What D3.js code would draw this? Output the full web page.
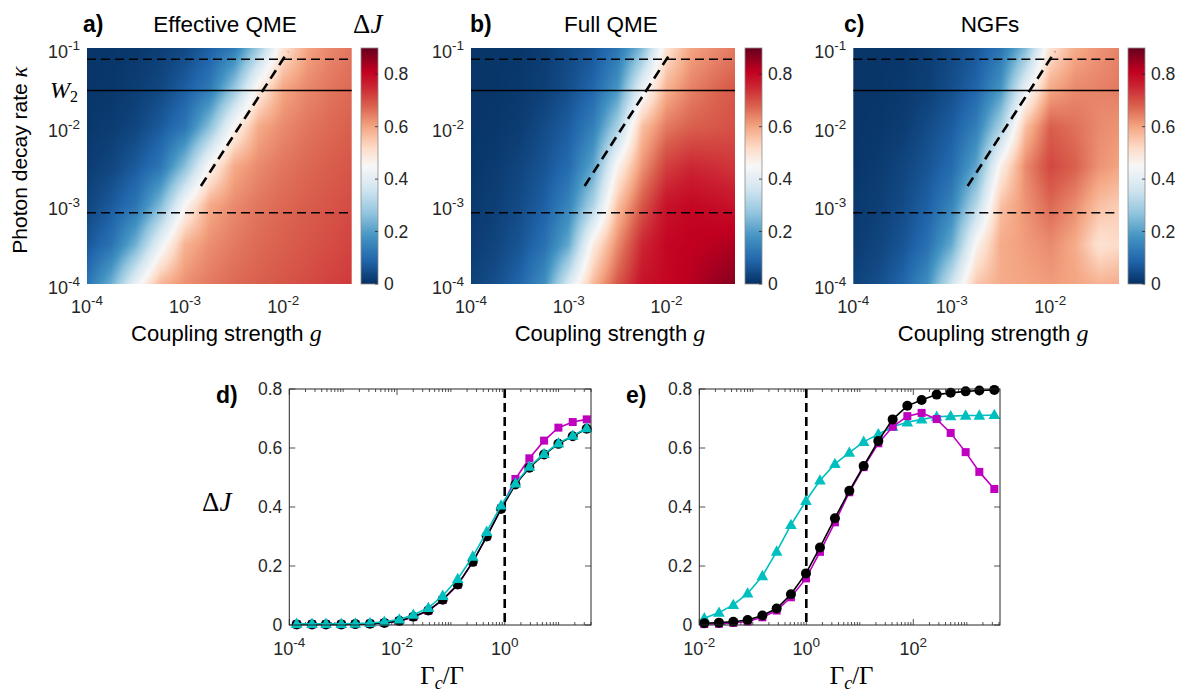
<!DOCTYPE html>
<html><head><meta charset="utf-8">
<script src="https://cdn.jsdelivr.net/npm/d3@7"></script>
<style>
body{margin:0;background:#fff}
svg{display:block}
</style>
</head><body>
<svg id="fig" width="1178" height="692"></svg>
<script>
// ---------------- DATA ----------------
// heat-map grid (coupling strength g columns, photon decay rate kappa rows, first row = kappa 1e-4)
const gGrid = [1e-4, 1.78e-4, 3.16e-4, 5.62e-4, 1e-3, 1.78e-3, 3.16e-3, 5.62e-3, 1e-2, 1.78e-2, 3.16e-2, 5e-2];
const kappaGrid = [1e-4, 3.16e-4, 1e-3, 3.16e-3, 1e-2, 3.16e-2, 1e-1];
const dJEffective = [
  [0.115, 0.23, 0.42, 0.575, 0.625, 0.65, 0.668, 0.68, 0.693, 0.705, 0.718, 0.728],
  [0.065, 0.115, 0.235, 0.42, 0.58, 0.625, 0.65, 0.668, 0.68, 0.693, 0.705, 0.715],
  [0.035, 0.07, 0.12, 0.25, 0.45, 0.59, 0.63, 0.655, 0.67, 0.683, 0.695, 0.705],
  [0.02, 0.036, 0.07, 0.12, 0.26, 0.455, 0.59, 0.63, 0.655, 0.67, 0.683, 0.693],
  [0.012, 0.02, 0.036, 0.07, 0.12, 0.26, 0.455, 0.59, 0.63, 0.655, 0.67, 0.68],
  [0.01, 0.012, 0.022, 0.038, 0.075, 0.125, 0.27, 0.47, 0.595, 0.632, 0.656, 0.668],
  [0.01, 0.01, 0.013, 0.024, 0.04, 0.08, 0.13, 0.29, 0.50, 0.60, 0.635, 0.655]
];
const dJFull = [
  [0.03, 0.05, 0.09, 0.17, 0.38, 0.57, 0.69, 0.78, 0.80, 0.82, 0.85, 0.87],
  [0.02, 0.035, 0.06, 0.11, 0.22, 0.48, 0.63, 0.75, 0.80, 0.81, 0.82, 0.83],
  [0.015, 0.025, 0.045, 0.08, 0.15, 0.31, 0.56, 0.69, 0.78, 0.80, 0.79, 0.78],
  [0.01, 0.018, 0.035, 0.06, 0.10, 0.21, 0.46, 0.62, 0.72, 0.75, 0.74, 0.73],
  [0.01, 0.012, 0.02, 0.045, 0.075, 0.14, 0.30, 0.56, 0.65, 0.68, 0.69, 0.70],
  [0.01, 0.01, 0.015, 0.025, 0.05, 0.09, 0.18, 0.41, 0.58, 0.64, 0.67, 0.69],
  [0.01, 0.01, 0.01, 0.02, 0.04, 0.065, 0.12, 0.25, 0.50, 0.60, 0.63, 0.65]
];
const dJNGF = [
  [0.03, 0.05, 0.09, 0.17, 0.36, 0.55, 0.59, 0.60, 0.61, 0.60, 0.58, 0.59],
  [0.02, 0.035, 0.06, 0.11, 0.22, 0.46, 0.59, 0.61, 0.63, 0.59, 0.50, 0.52],
  [0.015, 0.025, 0.045, 0.08, 0.15, 0.32, 0.56, 0.62, 0.67, 0.63, 0.56, 0.54],
  [0.01, 0.018, 0.035, 0.06, 0.10, 0.21, 0.47, 0.63, 0.71, 0.68, 0.62, 0.60],
  [0.01, 0.012, 0.02, 0.045, 0.075, 0.14, 0.30, 0.56, 0.68, 0.66, 0.63, 0.62],
  [0.01, 0.01, 0.015, 0.025, 0.05, 0.09, 0.18, 0.41, 0.59, 0.63, 0.64, 0.65],
  [0.01, 0.01, 0.01, 0.02, 0.04, 0.065, 0.12, 0.25, 0.50, 0.59, 0.62, 0.64]
];
const kappaDashed = [0.072, 8.05e-4];
const kappaW2 = 0.0288;
const diagG = [1.45e-3, 1.12e-2];
const diagKappa = [1.76e-3, 0.09];
const heatXTicks = [1e-4, 1e-3, 1e-2];
const heatYTicks = [1e-4, 1e-3, 1e-2, 1e-1];
const cbTicks = [0, 0.2, 0.4, 0.6, 0.8];
const titles = ["Effective QME", "Full QME", "NGFs"];
const letters = ["a)", "b)", "c)"];

// panel d
const dX = [1.37e-4, 2.64e-4, 4.80e-4, 9.24e-4, 1.68e-3, 3.15e-3, 5.82e-3, 0.01105, 0.0201, 0.0382, 0.0705,
            0.134, 0.255, 0.463, 0.855, 1.58, 2.87, 5.38, 9.93, 18.3, 33.3];
const dMag = [0.002, 0.002, 0.002, 0.002, 0.003, 0.004, 0.007, 0.013, 0.027, 0.048, 0.085, 0.136, 0.213,
              0.300, 0.395, 0.495, 0.565, 0.625, 0.669, 0.688, 0.697];
const dBlack = [0.002, 0.002, 0.002, 0.002, 0.003, 0.004, 0.007, 0.014, 0.028, 0.049, 0.086, 0.137, 0.214,
                0.300, 0.393, 0.476, 0.533, 0.578, 0.614, 0.640, 0.665];
const dCyan = [0.004, 0.004, 0.004, 0.004, 0.005, 0.007, 0.011, 0.019, 0.035, 0.058, 0.099, 0.156, 0.232,
               0.316, 0.405, 0.480, 0.537, 0.580, 0.616, 0.642, 0.667];
const dXTicks = [1e-4, 1e-2, 1];
// panel e
const eX = [0.0124, 0.0233, 0.0432, 0.080, 0.151, 0.279, 0.516, 0.986, 1.80, 3.43, 6.37, 11.8, 22.2, 41.1,
            77.3, 143, 273, 499, 951, 1713, 3266];
const eMag = [0.003, 0.004, 0.007, 0.012, 0.026, 0.049, 0.094, 0.158, 0.248, 0.348, 0.450, 0.535, 0.616,
              0.672, 0.708, 0.719, 0.698, 0.651, 0.586, 0.519, 0.461];
const eBlack = [0.006, 0.008, 0.011, 0.017, 0.032, 0.056, 0.104, 0.175, 0.263, 0.362, 0.455, 0.539, 0.624,
                0.697, 0.743, 0.763, 0.781, 0.787, 0.792, 0.795, 0.797];
const eCyan = [0.023, 0.042, 0.068, 0.107, 0.166, 0.249, 0.339, 0.421, 0.490, 0.546, 0.584, 0.621, 0.647,
               0.672, 0.687, 0.697, 0.706, 0.708, 0.710, 0.710, 0.712];
const eXTicks = [1e-2, 1, 1e2];
const yTicksLine = [0, 0.2, 0.4, 0.6, 0.8];

// ---------------- STYLE ----------------
const cmapStops = [0, 0.09, 0.18, 0.27, 0.36, 0.45, 0.52, 0.60, 0.68, 0.76, 0.81, 0.9];
const cmapColors = ["#053061", "#2166ac", "#4393c3", "#92c5de", "#d1e5f0", "#f7f7f7", "#fddbc7",
                    "#f4a582", "#d9604d", "#ca1f30", "#c20020", "#67001f"];
const color = d3.scaleLinear().domain(cmapStops).range(cmapColors).interpolate(d3.interpolateRgb).clamp(true);
const MAG = "#bf00bf", CYAN = "#00bfbf", BLK = "#000000";
const TICKC = "#262626";
const SANS = "'Liberation Sans',Arial,Helvetica,sans-serif";
const SERIF = "'Liberation Serif','DejaVu Serif','Times New Roman',serif";

const svg = d3.select("#fig").attr("font-family", SANS);

function sciLabel(sel, expo) {
  sel.append("tspan").text("10");
  sel.append("tspan").attr("dy", -8).attr("font-size", 13.5).text(expo);
}

// ---------------- HEAT MAPS ----------------
const heatTop = 48, heatBot = 284;
const heatPanels = [
  {x0: 87, x1: 351.7, cb: 361, data: dJEffective, tx: 225, lx: 83},
  {x0: 471, x1: 735, cb: 745, data: dJFull, tx: 611, lx: 470},
  {x0: 853.3, x1: 1119, cb: 1128, data: dJNGF, tx: 990, lx: 844}
];
const lgs = gGrid.map(Math.log10), lks = kappaGrid.map(Math.log10);

function bilinear(data, lg, lk) {
  const i = Math.min(Math.max(d3.bisectRight(lgs, lg) - 1, 0), lgs.length - 2);
  const j = Math.min(Math.max(d3.bisectRight(lks, lk) - 1, 0), lks.length - 2);
  const tx = Math.min(Math.max((lg - lgs[i]) / (lgs[i + 1] - lgs[i]), 0), 1);
  const ty = Math.min(Math.max((lk - lks[j]) / (lks[j + 1] - lks[j]), 0), 1);
  const a = data[j][i], b = data[j][i + 1], c = data[j + 1][i], d = data[j + 1][i + 1];
  return (a * (1 - tx) + b * tx) * (1 - ty) + (c * (1 - tx) + d * tx) * ty;
}

const defs = svg.append("defs");
const grad = defs.append("linearGradient").attr("id", "cbgrad")
  .attr("x1", 0).attr("y1", 1).attr("x2", 0).attr("y2", 0);
d3.range(0, 91).forEach(k => {
  const v = k / 100;
  grad.append("stop").attr("offset", v / 0.9).attr("stop-color", color(v));
});

heatPanels.forEach((p, idx) => {
  const g = svg.append("g");
  const x = d3.scaleLog().domain([1e-4, 5e-2]).range([p.x0, p.x1]);
  const y = d3.scaleLog().domain([1e-4, 1e-1]).range([heatBot, heatTop]);
  const w = Math.round(p.x1 - p.x0), h = heatBot - heatTop;
  const canvas = document.createElement("canvas");
  canvas.width = w; canvas.height = h;
  const ctx = canvas.getContext("2d");
  const img = ctx.createImageData(w, h);
  for (let jj = 0; jj < h; jj++) {
    const lk = Math.log10(y.invert(heatTop + jj + 0.5));
    for (let ii = 0; ii < w; ii++) {
      const lg = Math.log10(x.invert(p.x0 + (ii + 0.5) * (p.x1 - p.x0) / w));
      const c = d3.rgb(color(bilinear(p.data, lg, lk)));
      const o = 4 * (jj * w + ii);
      img.data[o] = c.r; img.data[o + 1] = c.g; img.data[o + 2] = c.b; img.data[o + 3] = 255;
    }
  }
  ctx.putImageData(img, 0, 0);
  g.append("image").attr("href", canvas.toDataURL())
    .attr("x", p.x0).attr("y", heatTop).attr("width", p.x1 - p.x0).attr("height", h)
    .attr("preserveAspectRatio", "none");

  kappaDashed.forEach(k => {
    g.append("line").attr("x1", p.x0).attr("x2", p.x1).attr("y1", y(k)).attr("y2", y(k))
      .attr("stroke", "#000").attr("stroke-width", 1.6).attr("stroke-dasharray", "9,5");
  });
  g.append("line").attr("x1", p.x0).attr("x2", p.x1).attr("y1", y(kappaW2)).attr("y2", y(kappaW2))
    .attr("stroke", "#000").attr("stroke-width", 1.6);
  g.append("line").attr("x1", x(diagG[0])).attr("y1", y(diagKappa[0]))
    .attr("x2", x(diagG[1])).attr("y2", y(diagKappa[1]))
    .attr("stroke", "#000").attr("stroke-width", 2.6).attr("stroke-dasharray", "10,6");

  heatXTicks.forEach(t => {
    const e = Math.round(Math.log10(t));
    g.append("text").attr("x", x(t)).attr("y", 313).attr("text-anchor", "middle")
      .attr("font-size", 18).attr("fill", TICKC).call(s => sciLabel(s, String(e)));
  });
  heatYTicks.forEach(t => {
    const e = Math.round(Math.log10(t));
    g.append("text").attr("x", p.x0 - 7).attr("y", y(t) + 10).attr("text-anchor", "end")
      .attr("font-size", 18).attr("fill", TICKC).call(s => sciLabel(s, String(e)));
  });
  const xl = g.append("text").attr("x", (p.x0 + p.x1) / 2 + 7).attr("y", 341).attr("text-anchor", "middle")
    .attr("font-size", 22).attr("fill", "#000");
  xl.append("tspan").text("Coupling strength ");
  xl.append("tspan").attr("font-family", SERIF).attr("font-style", "italic").attr("font-size", 24).text("g");

  g.append("text").attr("x", p.tx).attr("y", 32).attr("text-anchor", "middle").attr("font-size", 22.5)
    .attr("fill", "#000").text(titles[idx]);
  g.append("text").attr("x", p.lx).attr("y", 32).attr("font-size", 23).attr("font-weight", "bold")
    .attr("fill", "#000").text(letters[idx]);

  const cy = d3.scaleLinear().domain([0, 0.9]).range([heatBot, heatTop]);
  g.append("rect").attr("x", p.cb).attr("y", heatTop).attr("width", 17).attr("height", h)
    .attr("fill", "url(#cbgrad)").attr("stroke", "#8c8c8c").attr("stroke-width", 0.8);
  cbTicks.forEach(t => {
    g.append("line").attr("x1", p.cb + 17).attr("x2", p.cb + 14).attr("y1", cy(t)).attr("y2", cy(t))
      .attr("stroke", TICKC).attr("stroke-width", 0.8);
    g.append("text").attr("x", p.cb + 23).attr("y", cy(t) + 6).attr("font-size", 17.5)
      .attr("fill", TICKC).text(t === 0 ? "0" : t.toFixed(1));
  });
});

{
  const y = d3.scaleLog().domain([1e-4, 1e-1]).range([heatBot, heatTop]);
  const w2 = svg.append("text").attr("x", 50).attr("y", y(kappaW2) + 7).attr("font-family", SERIF)
    .attr("font-size", 24).attr("fill", "#000");
  w2.append("tspan").attr("font-style", "italic").text("W");
  w2.append("tspan").attr("font-size", 16).attr("dy", 4).text("2");
  const yl = svg.append("text").attr("transform", "translate(27,160) rotate(-90)")
    .attr("text-anchor", "middle").attr("font-size", 21).attr("fill", "#000");
  yl.append("tspan").text("Photon decay rate ");
  yl.append("tspan").attr("font-family", SERIF).attr("font-style", "italic").attr("font-size", 23).text("κ");
  const dj = svg.append("text").attr("x", 353).attr("y", 33).attr("font-family", SERIF)
    .attr("font-size", 27).attr("fill", "#000");
  dj.append("tspan").text("Δ");
  dj.append("tspan").attr("font-style", "italic").text("J");
}

// ---------------- LINE PANELS ----------------
const lTop = 389, lBot = 625;
const tri = "M0,-6.2L5.8,4.1L-5.8,4.1Z";

function linePanel(cfg) {
  const g = svg.append("g");
  const x = d3.scaleLog().domain(cfg.dom).range([cfg.x0, cfg.x1]);
  const y = d3.scaleLinear().domain([0, 0.8]).range([lBot, lTop]);
  const lo = Math.floor(Math.log10(cfg.dom[0])), hi = Math.ceil(Math.log10(cfg.dom[1]));
  for (let n = lo; n <= hi; n++) {
    for (let k = 1; k <= 9; k++) {
      const v = k * Math.pow(10, n);
      if (v < cfg.dom[0] * 0.999 || v > cfg.dom[1]) continue;
      const len = cfg.ticks.some(t => Math.abs(t - v) / v < 1e-6) ? 6 : 3;
      g.append("line").attr("x1", x(v)).attr("x2", x(v)).attr("y1", lBot).attr("y2", lBot - len)
        .attr("stroke", TICKC).attr("stroke-width", 0.8);
      g.append("line").attr("x1", x(v)).attr("x2", x(v)).attr("y1", lTop).attr("y2", lTop + len)
        .attr("stroke", TICKC).attr("stroke-width", 0.8);
    }
  }
  yTicksLine.forEach(t => {
    g.append("line").attr("x1", cfg.x0).attr("x2", cfg.x0 + 6).attr("y1", y(t)).attr("y2", y(t))
      .attr("stroke", TICKC).attr("stroke-width", 0.8);
    g.append("line").attr("x1", cfg.x1).attr("x2", cfg.x1 - 6).attr("y1", y(t)).attr("y2", y(t))
      .attr("stroke", TICKC).attr("stroke-width", 0.8);
    g.append("text").attr("x", cfg.x0 - 7).attr("y", y(t) + 6).attr("text-anchor", "end")
      .attr("font-size", 17.5).attr("fill", TICKC).text(t === 0 ? "0" : t.toFixed(1));
  });
  cfg.ticks.forEach(t => {
    const e = Math.round(Math.log10(t));
    g.append("text").attr("x", x(t)).attr("y", 655).attr("text-anchor", "middle")
      .attr("font-size", 18).attr("fill", TICKC).call(s => sciLabel(s, String(e)));
  });
  g.append("line").attr("x1", x(1)).attr("x2", x(1)).attr("y1", lTop).attr("y2", lBot)
    .attr("stroke", "#000").attr("stroke-width", 2.6).attr("stroke-dasharray", "9,5");
  cfg.series.forEach(s => {
    const pts = cfg.xs.map((v, i) => [x(v), y(s.vals[i])]);
    g.append("path").attr("d", d3.line()(pts)).attr("fill", "none").attr("stroke", s.color)
      .attr("stroke-width", 1.6);
    pts.forEach(pt => {
      if (s.marker === "square") {
        g.append("rect").attr("x", pt[0] - 4).attr("y", pt[1] - 4).attr("width", 8).attr("height", 8)
          .attr("fill", s.color);
      } else if (s.marker === "circle") {
        g.append("circle").attr("cx", pt[0]).attr("cy", pt[1]).attr("r", 5).attr("fill", s.color);
      } else {
        g.append("path").attr("d", tri).attr("transform", `translate(${pt[0]},${pt[1]})`).attr("fill", s.color);
      }
    });
  });
  g.append("rect").attr("x", cfg.x0).attr("y", lTop).attr("width", cfg.x1 - cfg.x0).attr("height", lBot - lTop)
    .attr("fill", "none").attr("stroke", TICKC).attr("stroke-width", 1);
  const xl = g.append("text").attr("x", (cfg.x0 + cfg.x1) / 2 + 2).attr("y", 684).attr("text-anchor", "middle")
    .attr("font-family", SERIF).attr("font-size", 25).attr("fill", "#000");
  xl.append("tspan").text("Γ");
  xl.append("tspan").attr("font-style", "italic").attr("font-size", 18).attr("dy", 5).text("c");
  xl.append("tspan").attr("dy", -5).text("/Γ");
  g.append("text").attr("x", cfg.lx).attr("y", 403).attr("font-size", 23).attr("font-weight", "bold")
    .attr("fill", "#000").text(cfg.letter);
}

linePanel({x0: 289.3, x1: 591, dom: [1e-4, 40], ticks: dXTicks, xs: dX, letter: "d)", lx: 216,
  series: [{vals: dMag, color: MAG, marker: "square"}, {vals: dBlack, color: BLK, marker: "circle"},
           {vals: dCyan, color: CYAN, marker: "triangle"}]});
linePanel({x0: 699.3, x1: 1000, dom: [1e-2, 4170], ticks: eXTicks, xs: eX, letter: "e)", lx: 626,
  series: [{vals: eCyan, color: CYAN, marker: "triangle"}, {vals: eMag, color: MAG, marker: "square"},
           {vals: eBlack, color: BLK, marker: "circle"}]});

{
  const dj = svg.append("text").attr("x", 202).attr("y", 511).attr("font-family", SERIF)
    .attr("font-size", 27).attr("fill", "#000");
  dj.append("tspan").text("Δ");
  dj.append("tspan").attr("font-style", "italic").text("J");
}
</script>
</body></html>
